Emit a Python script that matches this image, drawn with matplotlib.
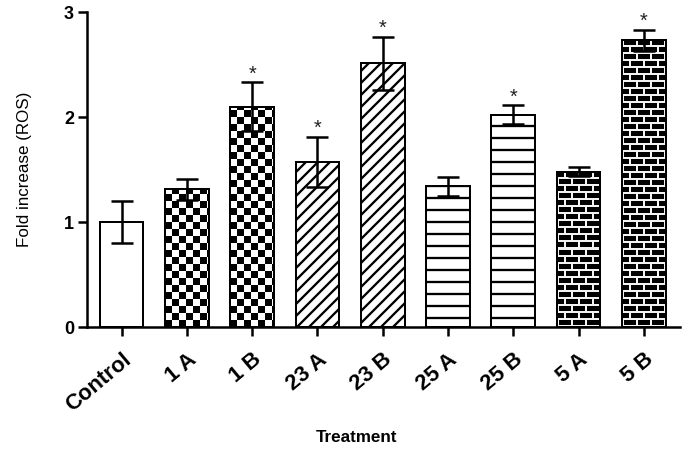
import numpy as np
import matplotlib
matplotlib.use("Agg")
import matplotlib.pyplot as plt
from matplotlib.transforms import ScaledTranslation

# Données
traitements = ["Control", "1 A", "1 B", "23 A", "23 B", "25 A", "25 B", "5 A", "5 B"]
moyennes = [1.00, 1.31, 2.10, 1.57, 2.51, 1.34, 2.02, 1.48, 2.73]
erreurs = [0.20, 0.10, 0.23, 0.24, 0.25, 0.09, 0.09, 0.04, 0.10]
significatif = [False, False, True, True, True, False, True, False, True]
motifs = ["", "damier", "damier", "//", "//", "-", "-", "brique", "brique"]

plt.rcParams["font.family"] = ["Liberation Sans", "DejaVu Sans"]
plt.rcParams["hatch.linewidth"] = 2.3

dpi = 72
fig = plt.figure(figsize=(688 / dpi, 453 / dpi), dpi=dpi)
ax = fig.add_axes([0.1265, 0.278, 0.8615, 0.6955])

x = np.arange(len(traitements))
largeur = 0.67
ax.set_xlim(-0.53, 8.55)
ax.set_ylim(0, 3)

barres = ax.bar(x, moyennes, largeur, color="white", edgecolor="black",
                linewidth=2, zorder=1)
for b, m in zip(barres, motifs):
    if m in ("//", "-"):
        b.set_hatch(m)


def motif_image(nom, w, h):
    yy, xx = np.mgrid[0:h, 0:w]
    yy = yy[::-1]  # origine en bas
    if nom == "damier":
        return ((xx // 7 + yy // 7) % 2).astype(float)
    # briques : blocs noirs, joints blancs
    rang = yy // 7
    decal = (rang % 2) * 7
    joint_h = (yy % 7) < 2
    joint_v = ((xx + decal) % 14) < 2
    return (joint_h | joint_v).astype(float) * 0.95


for b, m in zip(barres, motifs):
    if m not in ("damier", "brique"):
        continue
    bb = b.get_window_extent()
    w, h = int(round(bb.width)), int(round(bb.height))
    img = motif_image(m, w, h)
    im = ax.imshow(img, cmap="gray", vmin=0, vmax=1, interpolation="nearest",
                   extent=(b.get_x(), b.get_x() + b.get_width(), 0, b.get_height()),
                   aspect="auto", zorder=2)
    im.set_clip_path(b)

# contours par-dessus les motifs
ax.bar(x, moyennes, largeur, fill=False, edgecolor="black", linewidth=2, zorder=3)

ax.errorbar(x, moyennes, yerr=erreurs, fmt="none", ecolor="black",
            elinewidth=2.5, capsize=11, capthick=2.5, zorder=4)

for xi, m, e, s in zip(x, moyennes, erreurs, significatif):
    if s:
        ax.annotate("*", (xi, m + e), xytext=(0, -1), textcoords="offset points",
                    ha="center", va="bottom", fontsize=20, color="#222222")

ax.spines["top"].set_visible(False)
ax.spines["right"].set_visible(False)
ax.spines["left"].set_linewidth(2.5)
ax.spines["bottom"].set_linewidth(2.5)

ax.set_yticks([0, 1, 2, 3])
ax.set_xticks(x)
ax.set_xticklabels(traitements, rotation=40, ha="right", rotation_mode="anchor",
                   fontsize=22, fontweight="bold")
decalage = ScaledTranslation(-10 / dpi, 0, fig.dpi_scale_trans)
for t in ax.get_xticklabels():
    t.set_transform(t.get_transform() + decalage)
ax.tick_params(axis="both", direction="out", length=9, width=2.5)
ax.tick_params(axis="x", pad=13)
ax.tick_params(axis="y", labelsize=18, pad=4)
for t in ax.get_yticklabels():
    t.set_fontweight("bold")

ax.set_ylabel("Fold increase (ROS)", fontsize=17, labelpad=32)
ax.set_xlabel("Treatment", fontsize=17, fontweight="bold", labelpad=14, x=0.455)

fig.savefig("out.png", dpi=dpi)
